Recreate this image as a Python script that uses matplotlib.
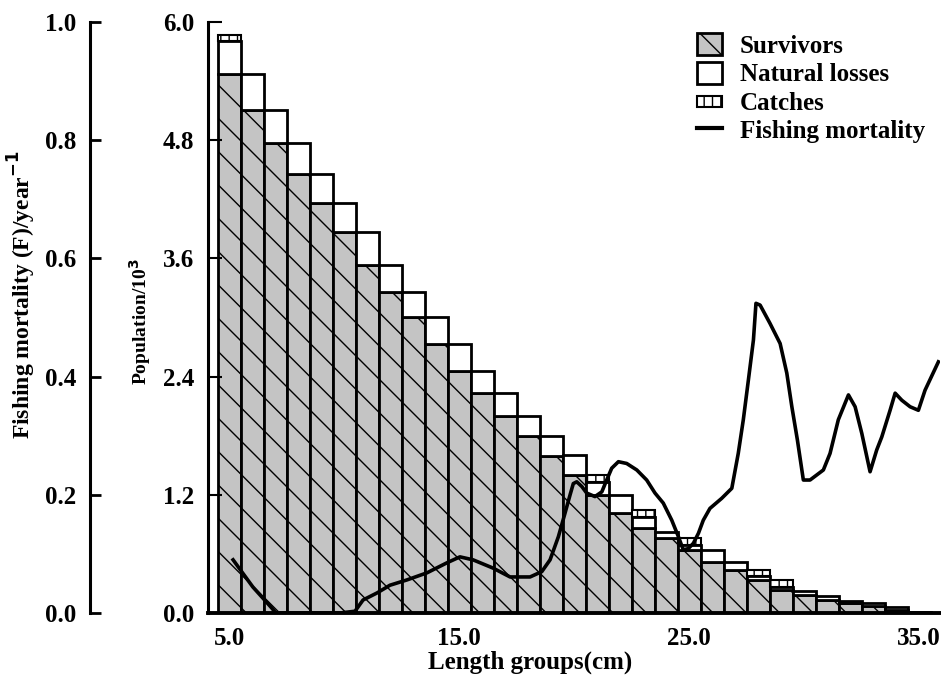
import numpy as np
import matplotlib
matplotlib.use("Agg")
import matplotlib.pyplot as plt
import matplotlib.patches as mpatches
import matplotlib.lines as mlines
from matplotlib.legend_handler import HandlerPatch

# length groups (cm)
lengths = np.arange(5, 36)

# population (x10^3) split per length group
survivors = [5.47, 5.11, 4.77, 4.46, 4.16, 3.87, 3.53, 3.26, 3.01, 2.73,
             2.46, 2.23, 2.00, 1.80, 1.59, 1.40, 1.20, 1.02, 0.86, 0.76,
             0.64, 0.52, 0.44, 0.34, 0.23, 0.18, 0.13, 0.10, 0.07, 0.03, 0.01]
natural = [0.34, 0.36, 0.34, 0.31, 0.30, 0.29, 0.34, 0.27, 0.25, 0.28,
           0.27, 0.23, 0.23, 0.20, 0.21, 0.20, 0.13, 0.18, 0.11, 0.06,
           0.05, 0.12, 0.08, 0.04, 0.035, 0.04, 0.04, 0.02, 0.03, 0.035, 0.0]
catches = [0.06, 0, 0, 0, 0, 0, 0, 0, 0, 0,
           0, 0, 0, 0, 0, 0, 0.07, 0, 0.08, 0,
           0.07, 0, 0, 0.06, 0.07, 0, 0, 0, 0, 0, 0]

# fishing mortality curve (length, F per year)
f_length = [5.17, 6.03, 6.47, 6.86, 7.03, 8.08, 9.82, 10.47, 10.82, 11.43,
            11.99, 12.73, 13.60, 14.47, 15.03, 15.60, 16.47, 17.21, 18.08, 18.59,
            18.95, 19.31, 19.60, 19.82, 19.96, 20.11, 20.33, 20.54, 20.90, 21.20,
            21.41, 21.63, 21.92, 22.28, 22.72, 23.15, 23.51, 23.87, 24.24, 24.53,
            24.74, 24.96, 25.18, 25.40, 25.61, 25.90, 26.41, 26.85, 27.13, 27.35,
            27.57, 27.79, 27.90, 28.08, 28.51, 28.95, 29.24, 29.46, 29.70, 29.96,
            30.25, 30.83, 31.12, 31.48, 31.92, 32.21, 32.50, 32.86, 33.15, 33.37,
            33.73, 33.95, 34.24, 34.60, 34.96, 35.25, 35.83]
f_value = [0.090, 0.044, 0.025, 0.008, 0.0, 0.0, 0.0, 0.003, 0.022, 0.034,
           0.047, 0.056, 0.068, 0.085, 0.095, 0.090, 0.076, 0.061, 0.061, 0.070,
           0.090, 0.129, 0.169, 0.200, 0.219, 0.222, 0.214, 0.203, 0.197, 0.205,
           0.225, 0.245, 0.256, 0.253, 0.242, 0.225, 0.203, 0.186, 0.157, 0.129,
           0.107, 0.109, 0.118, 0.135, 0.157, 0.177, 0.194, 0.211, 0.270, 0.327,
           0.394, 0.462, 0.524, 0.521, 0.490, 0.456, 0.406, 0.349, 0.293, 0.225,
           0.225, 0.242, 0.270, 0.327, 0.369, 0.349, 0.304, 0.239, 0.276, 0.298,
           0.343, 0.372, 0.360, 0.349, 0.343, 0.377, 0.425]

pop_ticks = [0.0, 1.2, 2.4, 3.6, 4.8, 6.0]
f_ticks = [0.0, 0.2, 0.4, 0.6, 0.8, 1.0]
x_ticks = [5, 15, 25, 35]

plt.rcParams['font.family'] = ['Liberation Serif', 'DejaVu Serif']
plt.rcParams['font.weight'] = 'bold'
plt.rcParams['hatch.linewidth'] = 1.0

surv = np.array(survivors)
nat = np.array(natural)
cat = np.array(catches)

fig = plt.figure(figsize=(9.41, 6.81), dpi=100)
ax = fig.add_axes([208 / 941, 68 / 681, 732 / 941, 591 / 681])

ax.bar(lengths, surv, width=1.0, bottom=0, color='#c4c4c4', hatch='\\',
       edgecolor='black', linewidth=2)
ax.bar(lengths, nat, width=1.0, bottom=surv, color='white',
       edgecolor='black', linewidth=2)
m = cat > 0
ax.bar(lengths[m], cat[m], width=1.0, bottom=(surv + nat)[m], color='white',
       hatch='||', edgecolor='black', linewidth=1.5)

ax.set_xlim(4.08, 35.9)
ax.set_ylim(0, 6.0)
ax.set_yticks(pop_ticks)
ax.set_yticklabels([f"{t:.1f}" for t in pop_ticks])
ax.set_xticks(x_ticks)
ax.set_xticklabels([f"{t:.1f}" for t in x_ticks])
ax.tick_params(axis='y', direction='in', length=10, width=1.5, pad=10, labelsize=18)
ax.tick_params(axis='x', length=0, pad=10, labelsize=18)
for s in ['top', 'right']:
    ax.spines[s].set_visible(False)
ax.spines['left'].set_linewidth(2.2)
ax.spines['bottom'].set_linewidth(2.8)

# fishing mortality axis, drawn further left
ax2 = ax.twinx()
ax2.plot(f_length, f_value, color='black', linewidth=2.6, zorder=5)
ax2.set_ylim(0, 1.0)
ax2.set_yticks(f_ticks)
ax2.set_yticklabels([f"{t:.1f}" for t in f_ticks])
ax2.yaxis.set_ticks_position('left')
ax2.spines['left'].set_position(('axes', -118 / 732))
ax2.spines['left'].set_linewidth(2.2)
for s in ['top', 'right', 'bottom']:
    ax2.spines[s].set_visible(False)
ax2.tick_params(axis='y', direction='in', length=8, width=2, pad=10, labelsize=18)

fig.text(22 / 941, 1 - 295 / 681, 'Fishing mortality (F)/year$^{\\mathbf{-1}}$',
         rotation=90, ha='center', va='center', fontsize=17)
fig.text(140 / 941, 1 - 322 / 681, 'Population/10$^{\\mathbf{3}}$',
         rotation=90, ha='center', va='center', fontsize=14)
fig.text(530 / 941, 1 - 662 / 681, 'Length groups(cm)',
         ha='center', va='center', fontsize=18)


def small_box(legend, orig_handle, xdescent, ydescent, width, height, fontsize):
    return mpatches.Rectangle((-xdescent, -ydescent + height * 0.25),
                              width, height * 0.5)


h_surv = mpatches.Patch(facecolor='#c4c4c4', hatch='\\', edgecolor='black', linewidth=2)
h_nat = mpatches.Patch(facecolor='white', edgecolor='black', linewidth=2)
h_cat = mpatches.Patch(facecolor='white', hatch='||', edgecolor='black', linewidth=1.5)
h_f = mlines.Line2D([], [], color='black', linewidth=3)
ax2.legend([h_surv, h_nat, h_cat, h_f],
           ['Survivors', 'Natural losses', 'Catches', 'Fishing mortality'],
           handler_map={h_cat: HandlerPatch(patch_func=small_box)},
           loc='upper left', bbox_to_anchor=(697 / 941, 1 - 33 / 681),
           bbox_transform=fig.transFigure, frameon=False, fontsize=18,
           handlelength=1.0, handleheight=1.0, handletextpad=0.7,
           labelspacing=0.15, borderpad=0, borderaxespad=0)

fig.savefig('out.png', dpi=100)
